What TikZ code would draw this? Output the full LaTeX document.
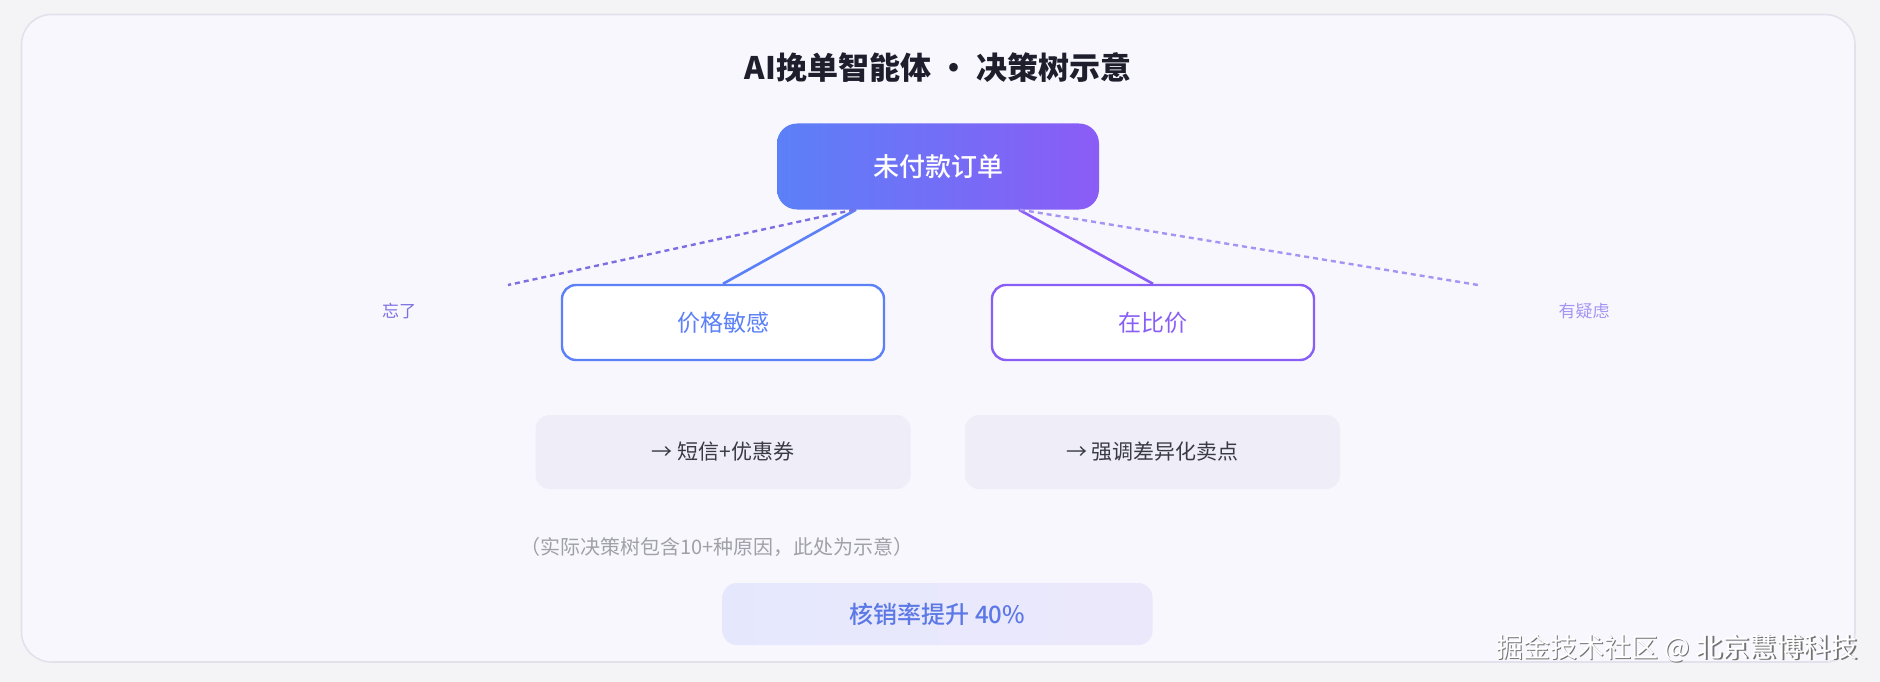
\documentclass[tikz,border=0pt]{standalone}
\usepackage{fontspec}
\setmainfont{Noto Sans CJK SC}
\IfFontExistsTF{Noto Sans CJK SC Medium}
  {\newfontfamily\cjkmed{Noto Sans CJK SC Medium}}
  {\newfontfamily\cjkmed{Noto Sans CJK SC}}
\definecolor{outerbg}{HTML}{F4F4F7}
\definecolor{cardbg}{HTML}{F8F7FE}
\definecolor{cardline}{HTML}{E3E2EC}
\definecolor{titlec}{HTML}{1E1E2C}
\definecolor{blueA}{HTML}{5B80F7}
\definecolor{purpA}{HTML}{8B5CF6}
\definecolor{dashL}{HTML}{7C6FE2}
\definecolor{dashR}{HTML}{A594F3}
\definecolor{actbg}{HTML}{EFEEF8}
\definecolor{acttext}{HTML}{3A3A44}
\definecolor{notec}{HTML}{A0A0A8}
\definecolor{resL}{HTML}{E5E8FD}
\definecolor{resR}{HTML}{ECE8FB}
\definecolor{restext}{HTML}{5B78E6}
\tikzset{
  fs/.style={font=\fontsize{#1}{#1}\selectfont},
  fsm/.style={font=\cjkmed\fontsize{#1}{#1}\selectfont},
  rootbox/.style={rounded corners=20pt, minimum width=322pt, minimum height=86pt,
    left color=blueA, right color=purpA, text=white, fsm=26},
  childbox/.style={rounded corners=14pt, minimum width=322pt, minimum height=75pt,
    fill=white, line width=2.4pt, fs=23},
  actbox/.style={rounded corners=14pt, minimum width=375pt, minimum height=74pt,
    fill=actbg, text=acttext, fs=21},
  solidedge/.style={line width=2.6pt},
  dashedge/.style={line width=2.4pt, dash pattern=on 5pt off 4pt},
  lbl/.style={fs=17},
}
\begin{document}
\begin{tikzpicture}[x=1pt,y=-1pt]
\useasboundingbox (0,0) rectangle (1880,682);
\fill[outerbg] (0,0) rectangle (1880,682);
\draw[fill=cardbg, draw=cardline, line width=1.6pt, rounded corners=30pt] (21.5,14.5) rectangle (1855,662);

\node[font=\fontsize{31}{31}\selectfont\bfseries, text=titlec] (title) at (938,68) {AI挽单智能体 · 决策树示意};

\node[rootbox] (root) at (938,166.5) {未付款订单};
\node[childbox, draw=blueA, text=blueA] (lchild) at (723,322.5) {价格敏感};
\node[childbox, draw=purpA!95!blueA, text=purpA!95!blueA] (rchild) at (1153,322.5) {在比价};

\coordinate (lend) at (508,285);
\coordinate (rend) at (1478,285);

\draw[solidedge, blueA] ([xshift=-82pt]root.south) -- (lchild.north);
\draw[solidedge, purpA] ([xshift=81pt]root.south) -- (rchild.north);
\draw[dashedge, dashL] ([xshift=-84pt]root.south) -- (lend);
\draw[dashedge, dashR] ([xshift=82pt]root.south) -- (rend);

\node[lbl, text=dashL] (forgot) at (399,311) {忘了};
\node[lbl, text=dashR] (doubt) at (1584,311) {有疑虑};

\node[actbox] (lact) at (723,452) {→ 短信+优惠券};
\node[actbox] (ract) at (1152.5,452) {→ 强调差异化卖点};

\node[fs=20, text=notec] (note) at (717,547) {（实际决策树包含10+种原因，此处为示意）};

\node[rounded corners=14pt, minimum width=430pt, minimum height=62pt,
  left color=resL, right color=resR, text=restext, fsm=24] (result) at (937.5,614) {核销率提升 40\%};

\node[anchor=east, fs=27, text=black!55, inner sep=0pt] (wmshadow) at (1859.2,649.2) {掘金技术社区 @ 北京慧博科技};
\node[anchor=east, fs=27, text=white, inner sep=0pt] (wm) at (1858,648) {掘金技术社区 @ 北京慧博科技};
\end{tikzpicture}
\end{document}
